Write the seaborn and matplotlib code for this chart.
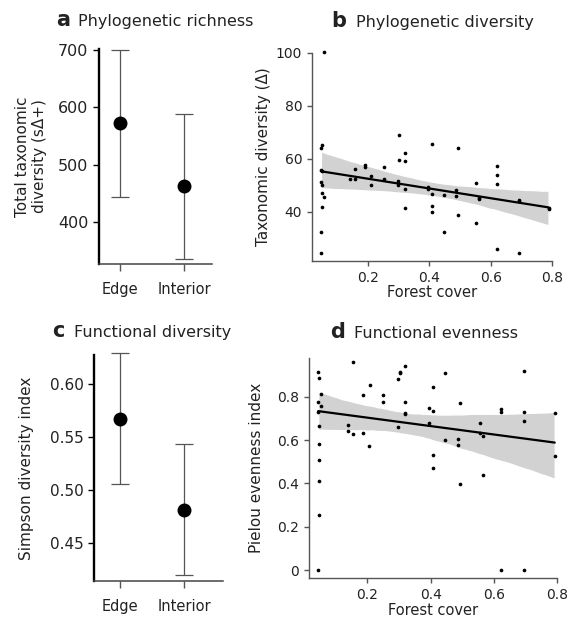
import numpy as np
import pandas as pd
import matplotlib
matplotlib.use('Agg')
import matplotlib.pyplot as plt
from matplotlib.collections import PolyCollection
import seaborn as sns

# group means with interval ends (panels a, c)
groups = ['Edge', 'Interior']
richness_mean = [572.7, 463.4]
richness_low = [444.3, 335.6]
richness_high = [699.0, 588.4]
simpson_mean = [0.567, 0.481]
simpson_low = [0.506, 0.420]
simpson_high = [0.629, 0.543]

# panel b: forest cover vs taxonomic diversity
pd_cover = [0.055, 0.048, 0.046, 0.046, 0.048, 0.046, 0.048, 0.048, 0.055, 0.048,
            0.046, 0.046, 0.140, 0.157, 0.157, 0.190, 0.190, 0.208, 0.208, 0.251,
            0.251, 0.302, 0.302, 0.320, 0.320, 0.298, 0.298, 0.320, 0.320, 0.407,
            0.394, 0.394, 0.407, 0.407, 0.407, 0.447, 0.447, 0.492, 0.487, 0.487,
            0.492, 0.552, 0.563, 0.563, 0.552, 0.622, 0.622, 0.622, 0.622, 0.691,
            0.691, 0.691, 0.789, 0.789]
pd_value = [100.4, 65.3, 64.1, 55.9, 55.3, 51.3, 50.1, 47.1, 45.8, 42.0,
            32.3, 24.5, 52.3, 52.3, 56.4, 57.8, 57.1, 53.7, 50.2, 56.8,
            52.6, 69.2, 59.8, 62.4, 59.3, 51.7, 50.2, 48.6, 41.5, 65.5,
            49.6, 48.8, 46.8, 42.3, 40.0, 46.3, 32.6, 64.3, 48.2, 46.0,
            38.9, 51.1, 45.4, 44.9, 36.0, 57.4, 54.1, 50.7, 26.0, 44.7,
            44.0, 24.6, 41.5, 41.1]

# panel d: forest cover vs Pielou evenness
fe_cover = [0.045, 0.047, 0.054, 0.045, 0.054, 0.045, 0.047, 0.047, 0.047, 0.047,
            0.047, 0.045, 0.156, 0.139, 0.139, 0.156, 0.188, 0.188, 0.208, 0.207,
            0.249, 0.249, 0.298, 0.302, 0.303, 0.320, 0.320, 0.320, 0.320, 0.298,
            0.394, 0.408, 0.408, 0.394, 0.408, 0.408, 0.445, 0.445, 0.494, 0.488,
            0.488, 0.494, 0.555, 0.555, 0.564, 0.564, 0.623, 0.623, 0.623, 0.694,
            0.694, 0.694, 0.694, 0.792, 0.792]
fe_value = [0.915, 0.886, 0.812, 0.774, 0.757, 0.731, 0.665, 0.583, 0.509, 0.412,
            0.252, 0.0, 0.960, 0.668, 0.642, 0.628, 0.806, 0.631, 0.855, 0.572,
            0.806, 0.774, 0.880, 0.912, 0.909, 0.942, 0.774, 0.723, 0.720, 0.662,
            0.746, 0.845, 0.734, 0.680, 0.531, 0.471, 0.909, 0.598, 0.772, 0.606,
            0.577, 0.395, 0.677, 0.631, 0.618, 0.437, 0.742, 0.731, 0.0, 0.920,
            0.731, 0.688, 0.0, 0.725, 0.528]
# the bottom-left zero site does not enter the fitted trend in the original
fe_in_fit = [i != 11 for i in range(len(fe_value))]

W, H = 572, 621
TXT = '#222222'

sns.set_style('ticks')
plt.rcParams['font.family'] = ['DejaVu Sans']
plt.rcParams['text.color'] = TXT
plt.rcParams['axes.labelcolor'] = TXT
plt.rcParams['xtick.color'] = TXT
plt.rcParams['ytick.color'] = TXT


def px_axes(fig, left, right, top, bottom):
    return fig.add_axes([left / W, 1 - bottom / H, (right - left) / W, (bottom - top) / H])


def panel_title(fig, letter, text, x_letter, x_text, baseline):
    fig.text(x_letter / W, 1 - baseline / H, letter, weight='bold', size=15, va='baseline')
    fig.text(x_text / W, 1 - baseline / H, text, size=11.5, va='baseline')


def interval_panel(ax, means, lows, highs, ysize):
    means = np.array(means)
    df = pd.DataFrame({'group': groups, 'value': means})
    sns.pointplot(data=df, x='group', y='value', color='black', linestyle='none',
                  errorbar=None, markersize=8, ax=ax, zorder=3)
    ax.errorbar([0, 1], means, yerr=[means - np.array(lows), np.array(highs) - means],
                fmt='none', ecolor='#555555', elinewidth=0.9, capsize=6.5,
                capthick=0.9, zorder=2, clip_on=False)
    sns.despine(ax=ax)
    ax.spines['left'].set_linewidth(1.7)
    ax.spines['left'].set_color('black')
    ax.spines['bottom'].set_linewidth(1.1)
    ax.spines['bottom'].set_color('#444444')
    ax.tick_params(axis='y', length=4, width=1, color='black', labelsize=ysize)
    ax.tick_params(axis='x', length=5, width=1, color='#555555', labelsize=10.5, pad=8)
    ax.set_xlabel('')


def scatter_panel(ax, cover, values, in_fit):
    cover = np.array(cover)
    values = np.array(values)
    keep = np.array(in_fit)
    sns.scatterplot(x=cover, y=values, ax=ax, color='black', s=7, linewidth=0,
                    clip_on=False, zorder=3)
    sns.regplot(x=cover[keep], y=values[keep], ax=ax, color='black', ci=95, seed=3,
                scatter=False, line_kws={'lw': 1.6, 'zorder': 4})
    for coll in ax.collections:
        if isinstance(coll, PolyCollection):
            coll.set_facecolor('#d2d2d2')
            coll.set_alpha(1)
            coll.set_zorder(1)
    sns.despine(ax=ax)
    for s in ['left', 'bottom']:
        ax.spines[s].set_color('#555555')
        ax.spines[s].set_linewidth(1)
    ax.tick_params(length=3.5, width=1, color='#555555', labelsize=10)
    ax.set_xticks([0.2, 0.4, 0.6, 0.8])
    ax.set_xticklabels(['0.2', '0.4', '0.6', '0.8'])
    ax.set_xlabel('Forest cover', fontsize=10.5, labelpad=0.5)


fig = plt.figure(figsize=(W / 100, H / 100), dpi=100)

# a
ax_a = px_axes(fig, 98.7, 212, 49, 264)
interval_panel(ax_a, richness_mean, richness_low, richness_high, 11.5)
ax_a.set_xlim(-0.333, 1.4375)
ax_a.set_ylim(327, 701)
ax_a.set_yticks([400, 500, 600, 700])
ax_a.set_ylabel('Total taxonomic\ndiversity (sΔ+)', fontsize=11, linespacing=1.1)
ax_a.yaxis.set_label_coords(-0.46, 0.5)
panel_title(fig, 'a', 'Phylogenetic richness', 56, 78.5, 26)

# b
ax_b = px_axes(fig, 312, 552, 53, 261)
scatter_panel(ax_b, pd_cover, pd_value, [True] * len(pd_value))
ax_b.set_xlim(0.017, 0.8)
ax_b.set_ylim(21.5, 100)
ax_b.set_yticks([40, 60, 80, 100])
ax_b.set_ylabel('Taxonomic diversity (Δ)', fontsize=11)
ax_b.yaxis.set_label_coords(-0.17, 0.5)
panel_title(fig, 'b', 'Phylogenetic diversity', 331, 356, 26.7)

# c
ax_c = px_axes(fig, 94.3, 222.7, 355, 580.7)
interval_panel(ax_c, simpson_mean, simpson_low, simpson_high, 11)
ax_c.set_xlim(-0.406, 1.6)
ax_c.set_ylim(0.4145, 0.6274)
ax_c.set_yticks([0.45, 0.50, 0.55, 0.60])
ax_c.set_yticklabels(['0.45', '0.50', '0.55', '0.60'])
ax_c.set_ylabel('Simpson diversity index', fontsize=11)
ax_c.yaxis.set_label_coords(-0.47, 0.5)
panel_title(fig, 'c', 'Functional diversity', 52, 74.5, 336.7)

# d
ax_d = px_axes(fig, 309, 557.3, 358.3, 578.3)
scatter_panel(ax_d, fe_cover, fe_value, fe_in_fit)
ax_d.set_xlim(0.016, 0.8)
ax_d.set_ylim(-0.038, 0.977)
ax_d.set_yticks([0, 0.2, 0.4, 0.6, 0.8])
ax_d.set_yticklabels(['0', '0.2', '0.4', '0.6', '0.8'])
ax_d.set_ylabel('Pielou evenness index', fontsize=11)
ax_d.yaxis.set_label_coords(-0.18, 0.5)
panel_title(fig, 'd', 'Functional evenness', 330.5, 354.5, 338.3)

fig.savefig('out.png', dpi=100)
